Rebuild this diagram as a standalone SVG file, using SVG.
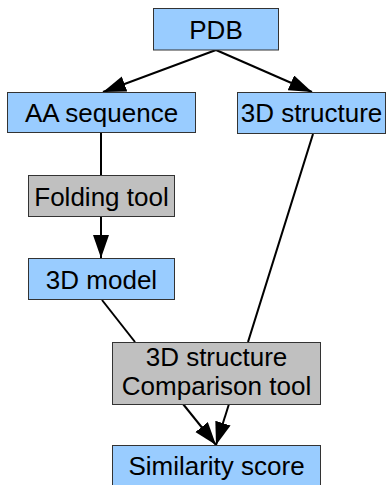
<svg xmlns="http://www.w3.org/2000/svg" width="388" height="485" viewBox="0 0 388 485">
<defs>
<style>
.box{stroke:#333;stroke-width:1}
.blue{fill:#99ccff}
.gray{fill:#c0c0c0}
text{font-family:"Liberation Sans",Arial,sans-serif;font-size:26px;fill:#000;text-anchor:middle}
.edge{stroke:#000;stroke-width:2;fill:none}
</style>
<marker id="ah" markerUnits="userSpaceOnUse" markerWidth="24" markerHeight="17" refX="23" refY="8" orient="auto" viewBox="0 0 24 17">
<path d="M0,0 L23,8 L0,16 Z" fill="#000"/>
</marker>
</defs>
<g id="edges">
<path class="edge" d="M216,50 L103,92" marker-end="url(#ah)"/>
<path class="edge" d="M216,50 L312,92" marker-end="url(#ah)"/>
<path class="edge" d="M101,133 L101,175"/>
<path class="edge" d="M101,217 L101,258" marker-end="url(#ah)"/>
<path class="edge" d="M102,300 L135,342"/>
<path class="edge" d="M313,134 L248,342"/>
<path class="edge" d="M183,404 L216,445" marker-end="url(#ah)"/>
<path class="edge" d="M229,404 L216,445" marker-end="url(#ah)"/>
</g>
<g id="pdb">
<rect class="box blue" x="153.5" y="8.5" width="125" height="41.5"/>
<text x="216" y="38.5">PDB</text>
</g>
<g id="aa-sequence">
<rect class="box blue" x="7.5" y="92.5" width="188" height="40"/>
<text x="101.5" y="122">AA sequence</text>
</g>
<g id="structure">
<rect class="box blue" x="237.5" y="92.5" width="148" height="41"/>
<text x="311.5" y="122">3D structure</text>
</g>
<g id="folding-tool">
<rect class="box gray" x="28.5" y="175.5" width="146" height="41"/>
<text x="101.5" y="205.5">Folding tool</text>
</g>
<g id="model">
<rect class="box blue" x="28.5" y="258.5" width="146" height="41"/>
<text x="101.5" y="288.5">3D model</text>
</g>
<g id="comparison-tool">
<rect class="box gray" x="112.5" y="342.5" width="208" height="62"/>
<text x="216.5" y="366">3D structure</text>
<text x="216.5" y="395">Comparison tool</text>
</g>
<g id="similarity-score">
<rect class="box blue" x="112.5" y="445.5" width="208" height="42"/>
<text x="216.5" y="475">Similarity score</text>
</g>
</svg>
